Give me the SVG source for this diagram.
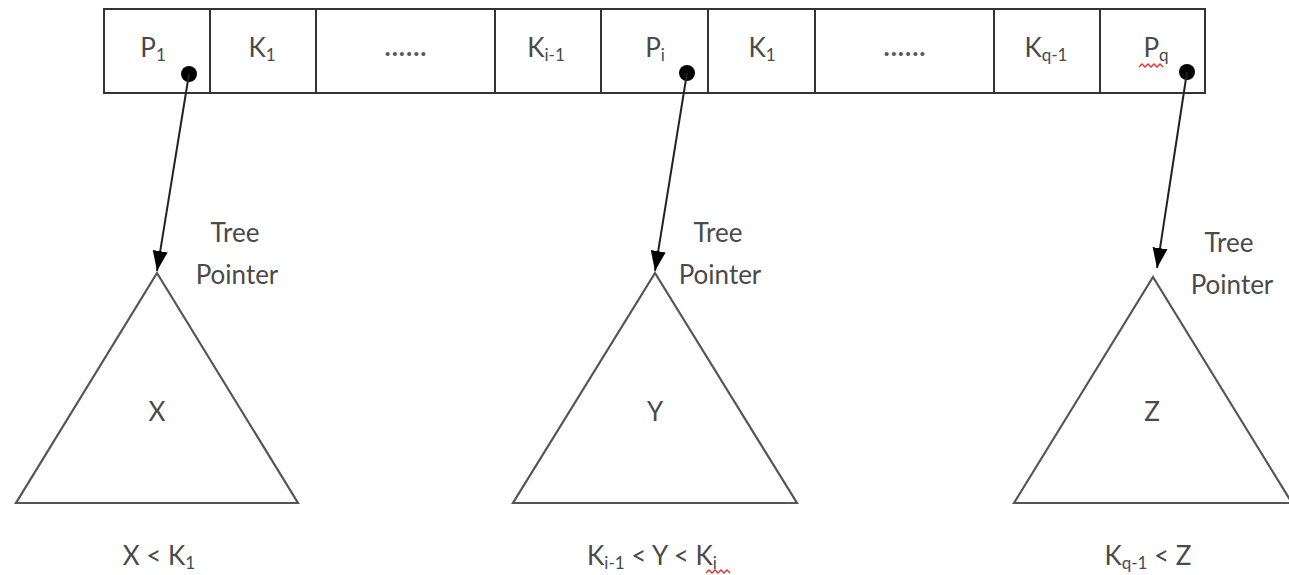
<svg xmlns="http://www.w3.org/2000/svg" width="1289" height="575" viewBox="0 0 1289 575">
<defs>
<style>
.cell{fill:#fff;stroke:#333;stroke-width:2}
.tri{fill:none;stroke:#555;stroke-width:2.2}
.t{font-family:Lato,"Open Sans",sans-serif;fill:#4a4a4a;text-anchor:middle}
.lbl{font-size:26px}
.tp{font-size:26px}
.sub{font-size:17px}
.dots{font-family:Lato,sans-serif;font-size:26px;font-weight:bold;fill:#556;text-anchor:middle;letter-spacing:1px}
.conn{stroke:#222;stroke-width:2;fill:none}
.dot{fill:#000}
.squig{fill:none;stroke:#e03030;stroke-width:1.4}
</style>
<marker id="arr" markerUnits="userSpaceOnUse" markerWidth="22" markerHeight="22" viewBox="0 0 22 22" refX="20" refY="11" orient="auto">
<path d="M0,3.5 L20,11 L0,18.5 Z" fill="#000"/>
</marker>
</defs>
<rect width="1289" height="575" fill="#fff"/>
<g id="node-record">
<rect class="cell" x="104" y="9" width="106" height="84"/>
<rect class="cell" x="210" y="9" width="106" height="84"/>
<rect class="cell" x="316" y="9" width="179" height="84"/>
<rect class="cell" x="495" y="9" width="106" height="84"/>
<rect class="cell" x="601" y="9" width="107" height="84"/>
<rect class="cell" x="708" y="9" width="107" height="84"/>
<rect class="cell" x="815" y="9" width="179" height="84"/>
<rect class="cell" x="994" y="9" width="106" height="84"/>
<rect class="cell" x="1100" y="9" width="105" height="84"/>
<text class="t lbl" x="153" y="57">P<tspan class="sub" dy="4">1</tspan></text>
<text class="t lbl" x="262" y="57">K<tspan class="sub" dy="4">1</tspan></text>
<text class="dots" x="406" y="56">......</text>
<text class="t lbl" x="546" y="57">K<tspan class="sub" dy="4">i-1</tspan></text>
<text class="t lbl" x="655" y="57">P<tspan class="sub" dy="4">i</tspan></text>
<text class="t lbl" x="762" y="57">K<tspan class="sub" dy="4">1</tspan></text>
<text class="dots" x="905" y="56">......</text>
<text class="t lbl" x="1046" y="57">K<tspan class="sub" dy="4">q-1</tspan></text>
<text class="t lbl" x="1156" y="57">P<tspan class="sub" dy="4">q</tspan></text>
<path class="squig" d="M1139,67 l3,-3 l3,3 l3,-3 l3,3 l3,-3 l3,3 l3,-3 l3,3"/>
<circle class="dot" cx="189" cy="74" r="8"/>
<circle class="dot" cx="687" cy="73" r="8"/>
<circle class="dot" cx="1187" cy="72" r="8"/>
</g>
<g id="connectors">
<line class="conn" x1="189" y1="74" x2="157" y2="271" marker-end="url(#arr)"/>
<line class="conn" x1="687" y1="73" x2="655" y2="271" marker-end="url(#arr)"/>
<line class="conn" x1="1187" y1="72" x2="1157" y2="268" marker-end="url(#arr)"/>
</g>
<g id="node-x">
<path class="tri" d="M157,273 L16,503 L298,503 Z"/>
<text class="t lbl" x="157" y="421">X</text>
<text class="t tp" x="235" y="242">Tree</text>
<text class="t tp" x="237" y="284">Pointer</text>
<text class="t lbl" x="159" y="565">X &lt; K<tspan class="sub" dy="4">1</tspan></text>
</g>
<g id="node-y">
<path class="tri" d="M655,273 L513,503 L797,503 Z"/>
<text class="t lbl" x="655" y="421">Y</text>
<text class="t tp" x="718" y="242">Tree</text>
<text class="t tp" x="720" y="284">Pointer</text>
<text class="t lbl" x="652" y="565">K<tspan class="sub" dy="4">i-1</tspan><tspan dy="-4"> &lt; Y &lt; K</tspan><tspan class="sub" dy="4">i</tspan></text>
<path class="squig" d="M706,573 l3,-3 l3,3 l3,-3 l3,3 l3,-3 l3,3 l3,-3 l3,3"/>
</g>
<g id="node-z">
<path class="tri" d="M1153,277 L1014,503 L1292,503 Z"/>
<text class="t lbl" x="1152" y="421">Z</text>
<text class="t tp" x="1229" y="252">Tree</text>
<text class="t tp" x="1232" y="294">Pointer</text>
<text class="t lbl" x="1148" y="565">K<tspan class="sub" dy="4">q-1</tspan><tspan dy="-4"> &lt; Z</tspan></text>
</g>
</svg>
